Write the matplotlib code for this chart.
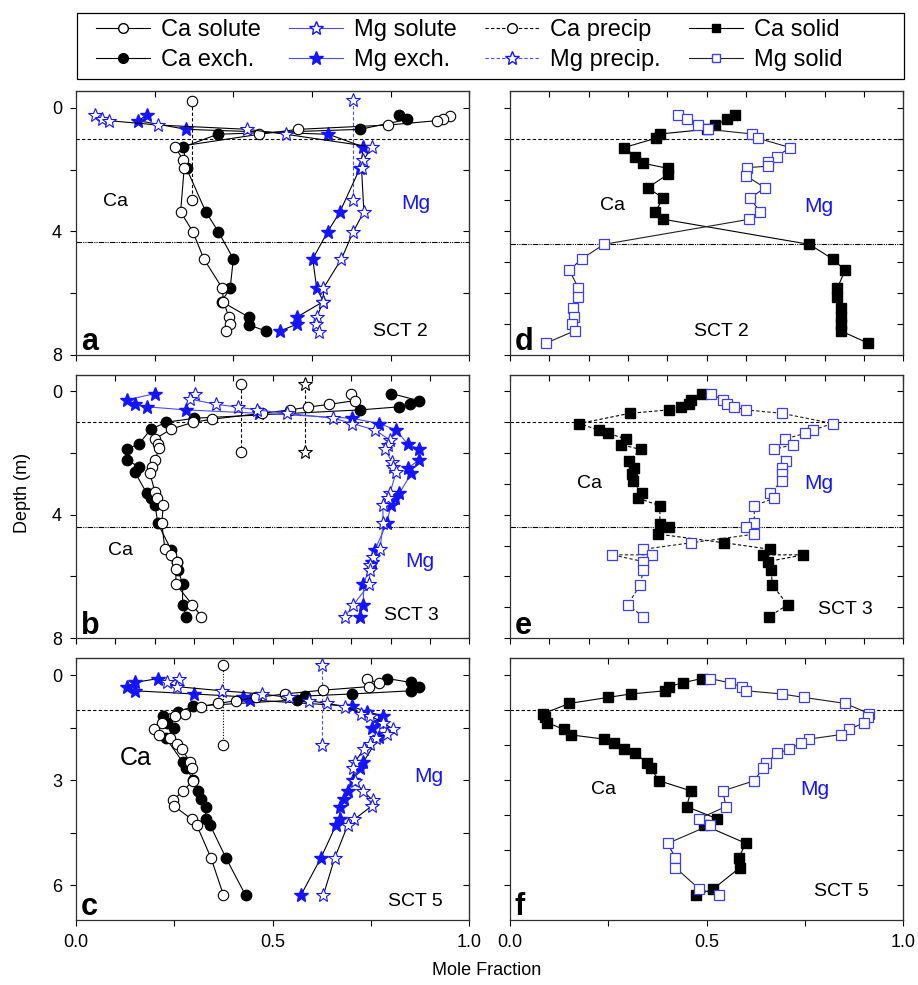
import numpy as np
import matplotlib
matplotlib.use('Agg')
import matplotlib.pyplot as plt
from matplotlib.lines import Line2D
from matplotlib.patches import Rectangle

plt.rcParams['font.family'] = ['Liberation Sans', 'DejaVu Sans']
NARROW = ['Liberation Sans Narrow', 'Liberation Sans', 'DejaVu Sans']

BLUE = '#1414ff'
MGLINE = '#4a4aff'
SQBLUE = '#3c3cff'

# ---- panel a (SCT 2, pore water / exchange) ----
a_ca_sol_x = [0.951, 0.934, 0.917, 0.794, 0.565, 0.466, 0.252, 0.273, 0.275, 0.266, 0.297, 0.325, 0.372, 0.375, 0.389, 0.392, 0.381]
a_ca_sol_d = [0.26, 0.38, 0.42, 0.56, 0.70, 0.86, 1.27, 1.70, 1.96, 3.37, 4.01, 4.89, 5.84, 6.27, 6.78, 6.99, 7.22]
a_ca_ex_x = [0.822, 0.842, 0.722, 0.360, 0.273, 0.281, 0.330, 0.362, 0.400, 0.392, 0.370, 0.440, 0.440, 0.482]
a_ca_ex_d = [0.22, 0.38, 0.70, 0.86, 1.27, 1.96, 3.37, 4.01, 4.89, 5.84, 6.27, 6.78, 7.03, 7.22]
a_mg_sol_x = [0.048, 0.065, 0.085, 0.208, 0.436, 0.534, 0.752, 0.731, 0.726, 0.732, 0.705, 0.675, 0.629, 0.629, 0.612, 0.610, 0.619]
a_mg_sol_d = [0.24, 0.38, 0.42, 0.56, 0.70, 0.86, 1.27, 1.70, 1.96, 3.37, 4.01, 4.89, 5.84, 6.27, 6.78, 6.99, 7.24]
a_mg_ex_x = [0.180, 0.158, 0.280, 0.642, 0.731, 0.722, 0.671, 0.640, 0.602, 0.612, 0.629, 0.561, 0.561, 0.519]
a_mg_ex_d = [0.24, 0.42, 0.70, 0.86, 1.27, 1.96, 3.37, 4.01, 4.89, 5.84, 6.27, 6.78, 7.01, 7.22]
a_ca_pre_x = [0.296, 0.296]
a_ca_pre_d = [-0.23, 2.99]
a_mg_pre_x = [0.705, 0.705]
a_mg_pre_d = [-0.25, 2.99]

# ---- panel b (SCT 3) ----
b_ca_sol_x = [0.698, 0.709, 0.644, 0.589, 0.544, 0.472, 0.347, 0.298, 0.242, 0.201, 0.208, 0.211, 0.201, 0.192, 0.188,
              0.201, 0.205, 0.222, 0.218, 0.226, 0.242, 0.256, 0.254, 0.254, 0.296, 0.319]
b_ca_sol_d = [0.08, 0.31, 0.43, 0.52, 0.61, 0.72, 0.91, 1.01, 1.23, 1.55, 1.71, 1.85, 2.23, 2.45, 2.66,
              3.28, 3.45, 3.69, 4.28, 5.11, 5.30, 5.52, 5.77, 6.25, 6.92, 7.30]
b_ca_ex_x = [0.801, 0.872, 0.849, 0.822, 0.722, 0.301, 0.229, 0.190, 0.160, 0.129, 0.129, 0.160, 0.150,
             0.180, 0.190, 0.201, 0.208, 0.242, 0.256, 0.260, 0.271, 0.271, 0.280]
b_ca_ex_d = [0.08, 0.31, 0.43, 0.51, 0.61, 0.88, 1.01, 1.24, 1.71, 1.88, 2.23, 2.45, 2.63,
             3.31, 3.47, 3.69, 4.28, 5.14, 5.54, 5.79, 6.25, 6.92, 7.30]
b_mg_sol_x = [0.303, 0.290, 0.356, 0.413, 0.459, 0.536, 0.654, 0.703, 0.760, 0.798, 0.794, 0.786, 0.803, 0.807, 0.814,
              0.798, 0.794, 0.780, 0.781, 0.773, 0.756, 0.747, 0.747, 0.746, 0.705, 0.684]
b_mg_sol_d = [0.08, 0.26, 0.43, 0.52, 0.61, 0.72, 0.88, 1.05, 1.26, 1.58, 1.75, 1.88, 2.29, 2.45, 2.63,
              3.31, 3.47, 3.69, 4.28, 5.11, 5.36, 5.63, 5.79, 6.25, 6.92, 7.30]
b_mg_ex_x = [0.201, 0.129, 0.150, 0.180, 0.280, 0.466, 0.701, 0.771, 0.814, 0.843, 0.872, 0.872, 0.843, 0.853,
             0.822, 0.811, 0.801, 0.790, 0.760, 0.752, 0.731, 0.731, 0.722]
b_mg_ex_d = [0.08, 0.29, 0.43, 0.51, 0.61, 0.72, 0.88, 1.05, 1.26, 1.71, 1.88, 2.23, 2.50, 2.66,
             3.31, 3.47, 3.69, 4.28, 5.14, 5.52, 6.25, 6.92, 7.30]
b_ca_pre_x = [0.419, 0.419]
b_ca_pre_d = [-0.23, 1.98]
b_mg_pre_x = [0.581, 0.581]
b_mg_pre_d = [-0.23, 1.98]

# ---- panel c (SCT 5) ----
c_ca_sol_x = [0.739, 0.770, 0.745, 0.629, 0.531, 0.458, 0.408, 0.362, 0.319, 0.277, 0.252, 0.218, 0.199, 0.212,
              0.239, 0.258, 0.269, 0.290, 0.294, 0.297, 0.273, 0.247, 0.249, 0.294, 0.307, 0.343, 0.375]
c_ca_sol_d = [0.10, 0.24, 0.33, 0.43, 0.54, 0.64, 0.73, 0.81, 0.90, 1.10, 1.16, 1.36, 1.54, 1.70,
              1.81, 1.97, 2.12, 2.48, 2.67, 3.02, 3.31, 3.57, 3.74, 4.12, 4.29, 5.22, 6.29]
c_ca_ex_x = [0.792, 0.851, 0.873, 0.851, 0.701, 0.582, 0.561, 0.298, 0.260, 0.220, 0.231, 0.250, 0.229,
             0.271, 0.280, 0.298, 0.309, 0.319, 0.330, 0.330, 0.341, 0.381, 0.431]
c_ca_ex_d = [0.10, 0.21, 0.33, 0.45, 0.54, 0.60, 0.71, 0.89, 1.05, 1.16, 1.38, 1.52, 1.81,
             2.48, 2.65, 3.00, 3.30, 3.54, 3.76, 4.10, 4.29, 5.22, 6.29]
c_mg_sol_x = [0.263, 0.232, 0.256, 0.372, 0.472, 0.542, 0.593, 0.637, 0.684, 0.725, 0.747, 0.781, 0.805, 0.790,
              0.764, 0.747, 0.732, 0.709, 0.705, 0.709, 0.729, 0.754, 0.752, 0.708, 0.691, 0.658, 0.629]
c_mg_sol_d = [0.10, 0.21, 0.33, 0.45, 0.54, 0.64, 0.73, 0.81, 0.90, 1.10, 1.16, 1.36, 1.54, 1.67,
              1.81, 1.97, 2.12, 2.48, 2.67, 3.02, 3.31, 3.57, 3.74, 4.12, 4.29, 5.22, 6.29]
c_mg_ex_x = [0.209, 0.150, 0.129, 0.150, 0.301, 0.424, 0.442, 0.701, 0.739, 0.780, 0.771, 0.752, 0.771,
             0.731, 0.722, 0.705, 0.692, 0.682, 0.671, 0.671, 0.661, 0.623, 0.572]
c_mg_ex_d = [0.10, 0.21, 0.33, 0.45, 0.54, 0.62, 0.71, 0.89, 1.05, 1.16, 1.33, 1.52, 1.76,
             2.48, 2.65, 3.00, 3.30, 3.54, 3.76, 4.10, 4.29, 5.22, 6.29]
c_ca_pre_x = [0.375, 0.375]
c_ca_pre_d = [-0.30, 2.00]
c_mg_pre_x = [0.625, 0.625]
c_mg_pre_d = [-0.30, 2.00]

# ---- panel d (SCT 2 solids) ----
d_ca_x = [0.572, 0.551, 0.521, 0.500, 0.381, 0.370, 0.290, 0.319, 0.339, 0.401, 0.401, 0.350, 0.390, 0.369, 0.390,
          0.761, 0.820, 0.852, 0.832, 0.832, 0.841, 0.841, 0.841, 0.841, 0.911]
d_ca_d = [0.24, 0.38, 0.56, 0.70, 0.85, 0.99, 1.29, 1.58, 1.80, 1.96, 2.16, 2.59, 2.93, 3.36, 3.61,
          4.42, 4.89, 5.26, 5.84, 6.13, 6.49, 6.76, 7.01, 7.22, 7.62]
d_mg_x = [0.428, 0.449, 0.479, 0.504, 0.616, 0.631, 0.712, 0.678, 0.657, 0.657, 0.602, 0.600, 0.648, 0.610, 0.636, 0.608,
          0.239, 0.182, 0.151, 0.174, 0.174, 0.159, 0.163, 0.158, 0.164, 0.091]
d_mg_d = [0.24, 0.38, 0.56, 0.70, 0.85, 0.99, 1.29, 1.58, 1.75, 1.89, 1.94, 2.20, 2.59, 2.93, 3.36, 3.61,
          4.42, 4.89, 5.26, 5.84, 6.13, 6.49, 6.78, 7.01, 7.22, 7.62]

# ---- panel e (SCT 3 solids) ----
e_ca_x = [0.489, 0.460, 0.455, 0.434, 0.403, 0.305, 0.176, 0.225, 0.250, 0.295, 0.281, 0.332, 0.303, 0.314, 0.309,
          0.312, 0.335, 0.326, 0.381, 0.381, 0.405, 0.377, 0.545, 0.661, 0.644, 0.746, 0.655, 0.664, 0.667, 0.706, 0.658]
e_ca_d = [0.08, 0.29, 0.43, 0.51, 0.61, 0.72, 1.05, 1.26, 1.37, 1.55, 1.73, 1.89, 2.25, 2.50, 2.68,
          2.91, 3.31, 3.47, 3.71, 4.31, 4.41, 4.63, 4.91, 5.12, 5.30, 5.30, 5.52, 5.79, 6.27, 6.92, 7.30]
e_mg_x = [0.510, 0.541, 0.551, 0.570, 0.600, 0.691, 0.820, 0.771, 0.750, 0.699, 0.720, 0.671, 0.701, 0.691, 0.691,
          0.691, 0.661, 0.671, 0.621, 0.621, 0.600, 0.621, 0.460, 0.339, 0.360, 0.260, 0.339, 0.339, 0.331, 0.299, 0.339]
e_mg_d = [0.08, 0.29, 0.43, 0.51, 0.61, 0.72, 1.05, 1.26, 1.37, 1.55, 1.73, 1.89, 2.25, 2.50, 2.68,
          2.91, 3.31, 3.47, 3.71, 4.28, 4.41, 4.63, 4.91, 5.12, 5.30, 5.30, 5.52, 5.79, 6.27, 6.92, 7.30]

# ---- panel f (SCT 5 solids) ----
f_ca_x = [0.487, 0.439, 0.404, 0.394, 0.307, 0.248, 0.151, 0.085, 0.089, 0.095, 0.136, 0.155, 0.239, 0.264,
          0.290, 0.319, 0.347, 0.358, 0.379, 0.460, 0.449, 0.525, 0.493, 0.600, 0.581, 0.585, 0.517, 0.473]
f_ca_d = [0.10, 0.22, 0.33, 0.45, 0.54, 0.64, 0.81, 1.10, 1.19, 1.36, 1.55, 1.71, 1.83, 1.95,
          2.11, 2.24, 2.50, 2.67, 3.02, 3.31, 3.76, 4.10, 4.29, 4.81, 5.22, 5.50, 6.11, 6.30]
f_mg_x = [0.508, 0.559, 0.589, 0.600, 0.691, 0.748, 0.852, 0.913, 0.911, 0.901, 0.862, 0.842, 0.760, 0.740,
          0.710, 0.680, 0.651, 0.642, 0.621, 0.541, 0.549, 0.481, 0.508, 0.401, 0.420, 0.420, 0.481, 0.531]
f_mg_d = [0.10, 0.22, 0.33, 0.45, 0.54, 0.64, 0.81, 1.10, 1.19, 1.36, 1.55, 1.70, 1.83, 1.95,
          2.11, 2.24, 2.50, 2.67, 3.02, 3.31, 3.76, 4.10, 4.29, 4.81, 5.22, 5.50, 6.11, 6.30]


def ca_sol(ax, x, d):
    ax.plot(x, d, '-', color='black', lw=0.8, marker='o', ms=7.5, mfc='white', mec='black', mew=0.8, zorder=4)


def ca_ex(ax, x, d):
    ax.plot(x, d, '-', color='black', lw=0.8, marker='o', ms=7.5, mfc='black', mec='black', zorder=3)


def mg_sol(ax, x, d, lc):
    ax.plot(x, d, '-', color=lc, lw=0.8, marker='*', ms=10.5, mfc='white', mec=BLUE, mew=0.8, zorder=4)


def mg_ex(ax, x, d, lc):
    ax.plot(x, d, '-', color=lc, lw=0.8, marker='*', ms=10.5, mfc=BLUE, mec=BLUE, zorder=3)


def solids(ax, cx, cd, mx, md, ls):
    ax.plot(cx, cd, ls=ls, color='black', lw=0.8, marker='s', ms=6.5, mfc='black', mec='black', zorder=3)
    ax.plot(mx, md, ls=ls, color='#202020', lw=0.8, marker='s', ms=6.5, mfc='white', mec=SQBLUE, mew=0.9, zorder=4)


def frame(ax, xstep, yticks, ylim, ylabels=None, xlabels=False):
    ax.set_xlim(0, 1)
    ax.set_ylim(ylim)
    xt = np.arange(0, 1.0001, xstep)
    ax.set_xticks(xt)
    ax.set_yticks(yticks)
    if xlabels:
        ax.set_xticklabels(['0.0', '', '0.5', '', '1.0'], fontfamily=NARROW, fontsize=13)
    else:
        ax.set_xticklabels([])
    if ylabels:
        ax.set_yticklabels(ylabels, fontsize=13)
    else:
        ax.set_yticklabels([])
    ax.tick_params(direction='out', length=4, width=0.8, pad=6)
    top = ax.secondary_xaxis('top')
    top.set_xticks(xt)
    top.tick_params(direction='in', length=4, width=0.8, labeltop=False)
    right = ax.secondary_yaxis('right')
    right.set_yticks(yticks)
    right.tick_params(direction='in', length=4, width=0.8, labelright=False)
    for sp in ax.spines.values():
        sp.set_linewidth(0.9)
        sp.set_color('#303030')


def reflines(ax, deep=None):
    ax.axhline(1.0, color='black', lw=0.8, ls=(0, (3, 2)), zorder=1)
    if deep is not None:
        ax.axhline(deep, color='black', lw=0.8, ls=(0, (5, 1, 1, 1, 1, 1)), zorder=1)


def labels(ax, letter, ca, mg, sct, ca_size=14):
    ax.text(ca[0], ca[1], 'Ca', fontsize=ca_size, ha='center', va='center')
    ax.text(mg[0], mg[1], 'Mg', fontsize=15, color=BLUE, ha='center', va='center')
    ax.text(sct[0], sct[1], sct[2], fontsize=14, ha='center', va='center')
    ax.text(0.012, 0.018, letter, transform=ax.transAxes, fontsize=22, fontweight='bold',
            ha='left', va='baseline')


fig = plt.figure(figsize=(9.18, 9.85), dpi=100)
W = 0.4284
rows = [(0.6396, 0.2680), (0.3520, 0.2673), (0.0660, 0.2657)]
axa = fig.add_axes([0.0828, rows[0][0], W, rows[0][1]])
axb = fig.add_axes([0.0828, rows[1][0], W, rows[1][1]])
axc = fig.add_axes([0.0828, rows[2][0], W, rows[2][1]])
axd = fig.add_axes([0.5556, rows[0][0], W, rows[0][1]])
axe = fig.add_axes([0.5556, rows[1][0], W, rows[1][1]])
axf = fig.add_axes([0.5556, rows[2][0], W, rows[2][1]])

# panel a
reflines(axa, 4.33)
axa.plot(a_ca_pre_x, a_ca_pre_d, ls=(0, (3, 2)), color='black', lw=0.8, marker='o', ms=7.5,
         mfc='white', mec='black', mew=0.8, zorder=2)
axa.plot(a_mg_pre_x, a_mg_pre_d, ls=(0, (3, 2)), color=MGLINE, lw=0.8, marker='*', ms=10.5,
         mfc='white', mec=BLUE, mew=0.8, zorder=2)
ca_ex(axa, a_ca_ex_x, a_ca_ex_d)
ca_sol(axa, a_ca_sol_x, a_ca_sol_d)
mg_ex(axa, a_mg_ex_x, a_mg_ex_d, 'black')
mg_sol(axa, a_mg_sol_x, a_mg_sol_d, 'black')
frame(axa, 0.2, [0, 2, 4, 6, 8], (8, -0.54), ['0', '', '4', '', '8'])
labels(axa, 'a', (0.10, 3.05), (0.865, 3.1), (0.825, 7.25, 'SCT 2'))

# panel b
reflines(axb, 4.41)
axb.plot(b_ca_pre_x, b_ca_pre_d, ls=(0, (3, 2)), color='black', lw=0.8, marker='o', ms=7.5,
         mfc='white', mec='black', mew=0.8, zorder=2)
axb.plot(b_mg_pre_x, b_mg_pre_d, ls=(0, (3, 2)), color='black', lw=0.8, marker='*', ms=10.5,
         mfc='white', mec='black', mew=0.8, zorder=2)
ca_ex(axb, b_ca_ex_x, b_ca_ex_d)
ca_sol(axb, b_ca_sol_x, b_ca_sol_d)
mg_ex(axb, b_mg_ex_x, b_mg_ex_d, MGLINE)
mg_sol(axb, b_mg_sol_x, b_mg_sol_d, MGLINE)
frame(axb, 0.1, [0, 2, 4, 6, 8], (8, -0.52), ['0', '', '4', '', '8'])
labels(axb, 'b', (0.112, 5.17), (0.873, 5.52), (0.853, 7.27, 'SCT 3'))

# panel c
reflines(axc)
axc.plot(c_ca_pre_x, c_ca_pre_d, ls=(0, (1, 1.5)), color='black', lw=0.8, marker='o', ms=7.5,
         mfc='white', mec='black', mew=0.8, zorder=2)
axc.plot(c_mg_pre_x, c_mg_pre_d, ls=(0, (3, 2)), color=MGLINE, lw=0.8, marker='*', ms=10.5,
         mfc='white', mec=BLUE, mew=0.8, zorder=2)
ca_ex(axc, c_ca_ex_x, c_ca_ex_d)
ca_sol(axc, c_ca_sol_x, c_ca_sol_d)
mg_ex(axc, c_mg_ex_x, c_mg_ex_d, 'black')
mg_sol(axc, c_mg_sol_x, c_mg_sol_d, 'black')
frame(axc, 0.25, [0, 1.5, 3, 4.5, 6], (7.0, -0.48), ['0', '', '3', '', '6'], xlabels=True)
labels(axc, 'c', (0.153, 2.38), (0.896, 2.9), (0.864, 6.48, 'SCT 5'), ca_size=18)

# panel d
reflines(axd, 4.42)
solids(axd, d_ca_x, d_ca_d, d_mg_x, d_mg_d, '-')
frame(axd, 0.1, list(range(0, 9)), (8, -0.54))
labels(axd, 'd', (0.261, 3.15), (0.784, 3.2), (0.538, 7.25, 'SCT 2'))

# panel e
reflines(axe, 4.41)
solids(axe, e_ca_x, e_ca_d, e_mg_x, e_mg_d, (0, (3, 2)))
frame(axe, 0.1, list(range(0, 9)), (8, -0.52))
labels(axe, 'e', (0.203, 2.99), (0.784, 2.99), (0.852, 7.08, 'SCT 3'))

# panel f
reflines(axf)
solids(axf, f_ca_x, f_ca_d, f_mg_x, f_mg_d, '-')
frame(axf, 0.25, list(range(0, 7)), (7.0, -0.48), xlabels=True)
labels(axf, 'f', (0.237, 3.26), (0.775, 3.26), (0.843, 6.19, 'SCT 5'))

# axis titles
fig.text(0.024, 0.50, 'Depth (m)', rotation=90, ha='center', va='center', fontsize=13, fontfamily=NARROW)
fig.text(0.530, 0.015, 'Mole Fraction', ha='center', va='center', fontsize=13, fontfamily=NARROW)

# legend (box drawn separately so it can be wider than its entries)
handles = [
    Line2D([], [], color='black', lw=0.8, marker='o', ms=7, mfc='white', mec='black'),
    Line2D([], [], color='black', lw=0.8, marker='o', ms=7, mfc='black', mec='black'),
    Line2D([], [], color=MGLINE, lw=0.8, marker='*', ms=10, mfc='white', mec=BLUE),
    Line2D([], [], color=MGLINE, lw=0.8, marker='*', ms=10, mfc=BLUE, mec=BLUE),
    Line2D([], [], color='black', lw=0.8, ls=(0, (3, 2)), marker='o', ms=7, mfc='white', mec='black'),
    Line2D([], [], color=MGLINE, lw=0.8, ls=(0, (3, 2)), marker='*', ms=10, mfc='white', mec=BLUE),
    Line2D([], [], color='black', lw=0.8, marker='s', ms=6, mfc='black', mec='black'),
    Line2D([], [], color='#202020', lw=0.8, marker='s', ms=6, mfc='white', mec=SQBLUE),
]
names = ['Ca solute', 'Ca exch.', 'Mg solute', 'Mg exch.', 'Ca precip', 'Mg precip.', 'Ca solid', 'Mg solid']
fig.legend(handles, names, ncol=4, loc='upper left', bbox_to_anchor=(96 / 918, 1 - 19 / 985),
           fontsize=17, frameon=False, handlelength=2.3, handletextpad=0.45, columnspacing=1.2,
           labelspacing=0.35, borderpad=0, borderaxespad=0)
fig.patches.append(Rectangle((77 / 918, 1 - 79.3 / 985), 827 / 918, 66.6 / 985, transform=fig.transFigure,
                             fill=False, ec='black', lw=0.9))

fig.savefig('out.png', dpi=100)
